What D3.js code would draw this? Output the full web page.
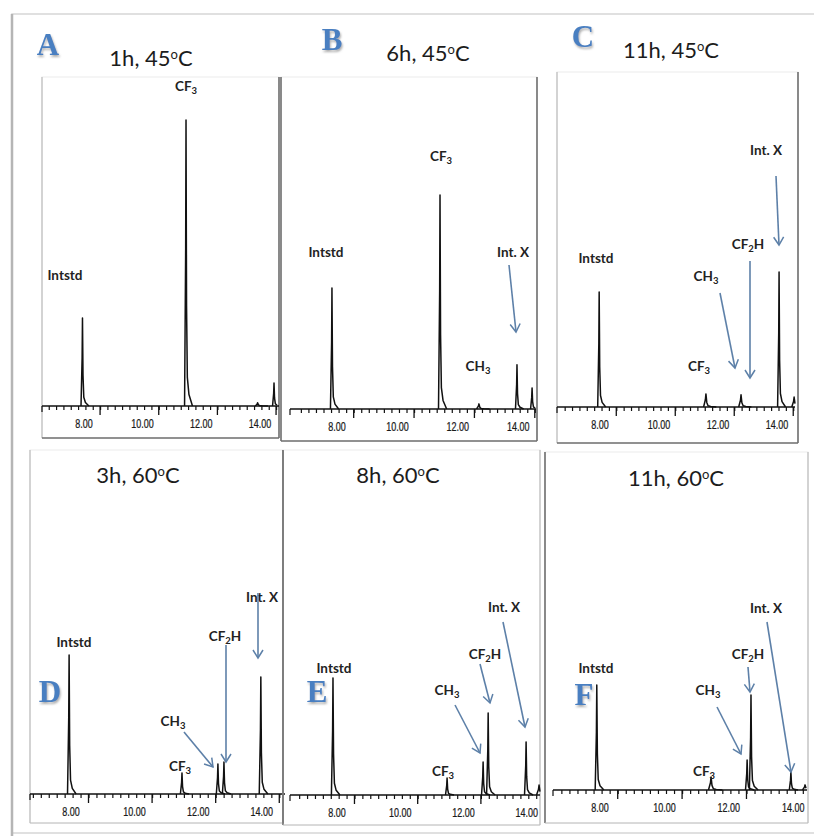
<!DOCTYPE html>
<html>
<head>
<meta charset="utf-8">
<script src="https://cdn.jsdelivr.net/npm/d3@7"></script>
<style>
  body { margin: 0; background: #fff; }
  svg { display: block; }
</style>
</head>
<body>
<svg id="chart" width="814" height="836"></svg>
<script>
// ---- data ----
const panelLetters = ['A', 'B', 'C', 'D', 'E', 'F'];
const panelHours = ['1h', '6h', '11h', '3h', '8h', '11h'];
const panelTemps = ['45', '45', '45', '60', '60', '60'];
const tickLabels = [8, 10, 12, 14];

// retention time (min) and peak height (% of full scale) for each trace
const retentionA = [7.95, 11.48, 13.92, 14.48];
const heightA    = [27.5, 89.4, 1.0, 7.2];
const retentionB = [7.83, 11.41, 12.70, 13.96, 14.46];
const heightB    = [37.8, 66.9, 1.6, 13.8, 6.6];
const retentionC = [7.97, 11.59, 12.78, 14.07, 14.58];
const heightC    = [35.9, 4.1, 3.8, 42.2, 3.1];
const retentionD = [7.94, 11.49, 12.62, 12.81, 13.97];
const heightD    = [43.4, 6.6, 9.4, 10.0, 36.6];
const retentionE = [7.87, 11.48, 12.62, 12.78, 13.98, 14.39];
const heightE    = [36.6, 5.3, 10.3, 25.6, 16.6, 3.1];
const retentionF = [7.90, 11.45, 12.57, 12.69, 13.93, 14.37];
const heightF    = [32.8, 4.1, 9.4, 29.7, 5.6, 1.6];

const retentions = [retentionA, retentionB, retentionC, retentionD, retentionE, retentionF];
const heights = [heightA, heightB, heightC, heightD, heightE, heightF];

// ---- layout (pixels) ----
const layout = [
  { x0: 42,  x1: 279, t0: 6.57, t1: 14.65, base: 406, frame: [42, 77, 279, 438],  dark: 'rb',
    title: [151, 66], letter: [48, 55] },
  { x0: 290, x1: 536, t0: 6.44, t1: 14.59, base: 409, frame: [281, 77, 537, 441], dark: 'lrb',
    title: [428, 61], letter: [332, 50] },
  { x0: 557, x1: 795, t0: 6.54, t1: 14.61, base: 407, frame: [557, 72, 798, 443], dark: 'rb',
    title: [671, 58], letter: [583, 47] },
  { x0: 30,  x1: 285, t0: 6.71, t1: 14.73, base: 794, frame: [30, 450, 283, 823], dark: 'r',
    title: [138, 483], letter: [50, 702] },
  { x0: 290, x1: 540, t0: 6.51, t1: 14.42, base: 795, frame: [283, 450, 540, 825], dark: 'l',
    title: [398, 483], letter: [317, 702] },
  { x0: 553, x1: 807, t0: 6.54, t1: 14.43, base: 790, frame: [545, 452, 808, 823], dark: 'l',
    title: [676, 486], letter: [584, 705] }
];

// peak labels: text parts ([string, subscript?]), centre x, baseline y, optional arrow
const notes = [
  [
    { parts: [['Intstd']], x: 65, y: 280 },
    { parts: [['CF'], ['3', 1]], x: 186, y: 91 }
  ],
  [
    { parts: [['Intstd']], x: 326, y: 257 },
    { parts: [['CF'], ['3', 1]], x: 441, y: 161 },
    { parts: [['CH'], ['3', 1]], x: 478, y: 371 },
    { parts: [['Int. X']], x: 513, y: 257, arrow: [509, 265, 516, 332] }
  ],
  [
    { parts: [['Intstd']], x: 596, y: 263 },
    { parts: [['CH'], ['3', 1]], x: 706, y: 281 , arrow: [720, 293, 735, 368] },
    { parts: [['CF'], ['3', 1]], x: 699, y: 371 },
    { parts: [['CF'], ['2', 1], ['H']], x: 748, y: 249, arrow: [750, 261, 750, 378] },
    { parts: [['Int. X']], x: 766, y: 155, arrow: [776, 176, 779, 245] }
  ],
  [
    { parts: [['Intstd']], x: 74, y: 647 },
    { parts: [['CH'], ['3', 1]], x: 173, y: 726, arrow: [184, 732, 213, 767] },
    { parts: [['CF'], ['3', 1]], x: 180, y: 771 },
    { parts: [['CF'], ['2', 1], ['H']], x: 225, y: 641, arrow: [226, 645, 226, 762] },
    { parts: [['Int. X']], x: 262, y: 602, arrow: [258, 593, 258, 658] }
  ],
  [
    { parts: [['Intstd']], x: 334, y: 673 },
    { parts: [['CH'], ['3', 1]], x: 447, y: 695, arrow: [455, 705, 480, 753] },
    { parts: [['CF'], ['3', 1]], x: 443, y: 776 },
    { parts: [['CF'], ['2', 1], ['H']], x: 485, y: 659, arrow: [480, 664, 490, 703] },
    { parts: [['Int. X']], x: 504, y: 612, arrow: [503, 622, 525, 727] }
  ],
  [
    { parts: [['Intstd']], x: 596, y: 673 },
    { parts: [['CH'], ['3', 1]], x: 708, y: 695, arrow: [717, 707, 741, 754] },
    { parts: [['CF'], ['3', 1]], x: 704, y: 776 },
    { parts: [['CF'], ['2', 1], ['H']], x: 748, y: 659, arrow: [748, 667, 750, 692] },
    { parts: [['Int. X']], x: 766, y: 613, arrow: [767, 622, 791, 772] }
  ]
];

const arrowColor = '#5d80a8';
const labelFont = 'Lato, "Open Sans", sans-serif';
const tickFont = '"Liberation Sans", Arial, sans-serif';

const svg = d3.select('#chart');
const defs = svg.append('defs');

const shadow = defs.append('filter').attr('id', 'shadow')
  .attr('x', '-20%').attr('y', '-20%').attr('width', '140%').attr('height', '140%');
shadow.append('feGaussianBlur').attr('in', 'SourceGraphic').attr('stdDeviation', 1.2);

const letterShadow = defs.append('filter').attr('id', 'letterShadow');
letterShadow.append('feDropShadow')
  .attr('dx', 1).attr('dy', 2).attr('stdDeviation', 1)
  .attr('flood-color', '#777').attr('flood-opacity', 0.6);

defs.append('marker')
  .attr('id', 'vhead')
  .attr('viewBox', '-10 -6 12 12')
  .attr('markerUnits', 'userSpaceOnUse')
  .attr('markerWidth', 12).attr('markerHeight', 12)
  .attr('refX', 0).attr('refY', 0)
  .attr('orient', 'auto')
  .append('path')
  .attr('d', 'M-8,-5 L0,0 L-8,5')
  .attr('fill', 'none')
  .attr('stroke', arrowColor)
  .attr('stroke-width', 1.5);

// outer frame
svg.append('rect')
  .attr('x', 12).attr('y', 14).attr('width', 805).attr('height', 819)
  .attr('fill', 'none').attr('stroke', '#d6d6d6').attr('stroke-width', 1.5);
svg.append('line')
  .attr('x1', 12).attr('y1', 14).attr('x2', 12).attr('y2', 836)
  .attr('stroke', '#b5b5b5').attr('stroke-width', 2.5);

// peak outline relative to apex (time offset, fraction of height)
const peakShape = [[-0.05, 0], [-0.012, 0.55], [0, 1], [0.018, 0.35], [0.045, 0.1], [0.1, 0.04], [0.22, 0]];

layout.forEach((p, i) => {
  const g = svg.append('g');
  const [fx0, fy0, fx1, fy1] = p.frame;

  // panel frame
  g.append('rect')
    .attr('x', fx0).attr('y', fy0).attr('width', fx1 - fx0).attr('height', fy1 - fy0)
    .attr('fill', 'none').attr('stroke', '#ececec');
  const sides = {
    l: [fx0, fy0, fx0, fy1],
    r: [fx1, fy0, fx1, fy1],
    b: [fx0, fy1, fx1, fy1]
  };
  ['l', 'r', 'b'].forEach(s => {
    const [a, b, c, d] = sides[s];
    const dark = p.dark.includes(s);
    g.append('line')
      .attr('x1', a + 1).attr('y1', b + 1).attr('x2', c + 1).attr('y2', d + 1)
      .attr('stroke', '#999').attr('stroke-width', dark ? 3 : 2)
      .attr('filter', 'url(#shadow)');
    g.append('line')
      .attr('x1', a).attr('y1', b).attr('x2', c).attr('y2', d)
      .attr('stroke', dark ? '#6f6f6f' : '#bdbdbd').attr('stroke-width', dark ? 1.6 : 1.2);
  });

  const x = d3.scaleLinear().domain([p.t0, p.t1]).range([p.x0, p.x1]);
  const y = d3.scaleLinear().domain([0, 100]).range([p.base, p.base - 320]);

  // axis: minor ticks every 0.25 min, tall ticks every 2 min, labels centred on values
  const tallTicks = d3.range(8.55, p.t1, 2);
  const minorTicks = d3.range(8.55 - 0.25 * 7, p.t1, 0.25).filter(t => t > p.t0 + 0.05);
  const axis = g.append('g').attr('transform', `translate(0,${p.base})`);
  axis.call(d3.axisBottom(x).tickValues(minorTicks).tickSize(4).tickSizeOuter(0).tickFormat(''));
  axis.select('.domain').attr('stroke', '#111').attr('stroke-width', 1.6).attr('d', `M${p.x0},0H${p.x1}`);
  axis.selectAll('.tick line').attr('stroke', '#111').attr('stroke-width', 1.2);
  axis.append('line').attr('x1', p.x0).attr('x2', p.x0).attr('y1', 0).attr('y2', 6)
    .attr('stroke', '#111').attr('stroke-width', 1.2);
  axis.selectAll('.tall')
    .data(tallTicks)
    .enter()
    .append('line')
    .attr('x1', d => x(d)).attr('x2', d => x(d))
    .attr('y1', 0).attr('y2', 9)
    .attr('stroke', '#111').attr('stroke-width', 1.3);
  // condensed tick labels: squeeze the glyphs horizontally
  axis.selectAll('.lbl')
    .data(tickLabels)
    .enter()
    .append('text')
    .attr('transform', d => `translate(${x(d)},22) scale(0.72,1)`)
    .attr('text-anchor', 'middle')
    .attr('font-family', tickFont)
    .attr('font-size', 12.5)
    .attr('fill', '#1a1a1a')
    .attr('stroke', '#1a1a1a')
    .attr('stroke-width', 0.25)
    .text(d => d3.format('.2f')(d));

  // chromatogram peaks
  const line = d3.line().x(d => x(d[0])).y(d => y(d[1]));
  retentions[i].forEach((rt, k) => {
    const h = heights[i][k];
    const pts = peakShape.map(([dt, f]) => [rt + dt * (h > 5 ? 1 : 1.6), h * f])
      .filter(d => d[0] <= p.t1);
    g.append('path')
      .attr('d', line(pts))
      .attr('fill', 'none')
      .attr('stroke', '#111')
      .attr('stroke-width', 1.5)
      .attr('stroke-linejoin', 'round');
  });

  // title
  const title = g.append('text')
    .attr('x', p.title[0]).attr('y', p.title[1])
    .attr('text-anchor', 'middle')
    .attr('font-family', labelFont)
    .attr('font-size', 22)
    .attr('fill', '#1c1c1c');
  title.append('tspan').text(`${panelHours[i]}, ${panelTemps[i]}`);
  title.append('tspan').attr('font-size', 13).attr('dy', -7).text('o');
  title.append('tspan').attr('dy', 7).text('C');

  // panel letter
  g.append('text')
    .attr('x', p.letter[0]).attr('y', p.letter[1])
    .attr('text-anchor', 'middle')
    .attr('font-family', '"Liberation Serif", "DejaVu Serif", serif')
    .attr('font-weight', 'bold')
    .attr('font-size', 31)
    .attr('fill', '#4a7fc1')
    .attr('filter', 'url(#letterShadow)')
    .text(panelLetters[i]);

  // peak labels and arrows
  notes[i].forEach(n => {
    const t = g.append('text')
      .attr('x', n.x).attr('y', n.y)
      .attr('text-anchor', 'middle')
      .attr('font-family', labelFont)
      .attr('font-weight', 700)
      .attr('font-size', 13.5)
      .attr('fill', '#222');
    let shift = 0;
    n.parts.forEach(([s, sub]) => {
      const dy = sub ? 3 : -shift;
      shift = sub ? 3 : 0;
      t.append('tspan').attr('dy', dy).attr('font-size', sub ? 9.5 : null).text(s);
    });
    if (n.arrow) {
      const [ax1, ay1, ax2, ay2] = n.arrow;
      g.append('line')
        .attr('x1', ax1).attr('y1', ay1).attr('x2', ax2).attr('y2', ay2)
        .attr('stroke', arrowColor)
        .attr('stroke-width', 1.6)
        .attr('marker-end', 'url(#vhead)');
    }
  });
});
</script>
</body>
</html>
